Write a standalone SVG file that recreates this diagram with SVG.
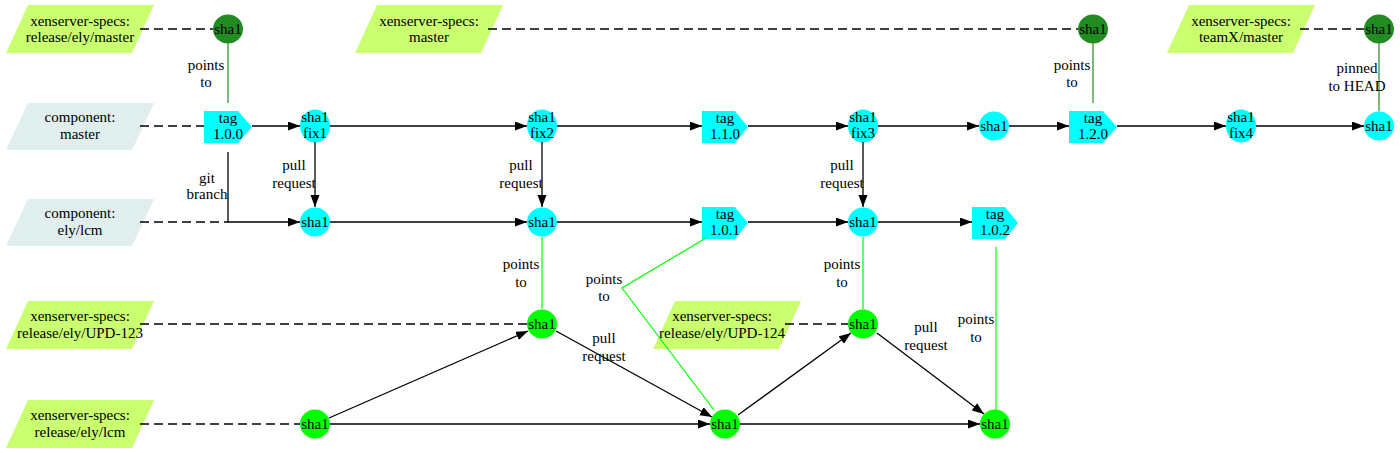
<svg xmlns="http://www.w3.org/2000/svg" width="1400" height="453" viewBox="0 0 1400 453">
<defs>
<marker id="ah" markerUnits="userSpaceOnUse" markerWidth="13" markerHeight="10" refX="12" refY="4.5" orient="auto">
<path d="M0,0 L12,4.5 L0,9 z" fill="#000"/>
</marker>
<style>
text{font-family:"Liberation Serif","Times New Roman",Times,serif;font-size:15px;fill:#000;text-anchor:middle}
.spec{fill:#caff70}
.comp{fill:#e0eeee}
.dg{fill:#228b22}
.cy{fill:#00ffff}
.gr{fill:#00ff00}
.e{stroke:#000;stroke-width:1.3;fill:none;marker-end:url(#ah)}
.d{stroke:#000;stroke-width:1.3;fill:none;stroke-dasharray:9,5}
.fg{stroke:#228b22;stroke-width:1.2;fill:none}
.lg{stroke:#00ff00;stroke-width:1.2;fill:none}
</style>
</defs>
<rect width="1400" height="453" fill="#fff"/>

<g id="spec-release-ely-master"><polygon class="spec" points="28,5 154,5 132,53 6,53"/><text x="80" y="26">xenserver-specs:</text><text x="80" y="42">release/ely/master</text></g>
<g id="spec-master"><polygon class="spec" points="377,5 503,5 481,53 355,53"/><text x="429" y="26">xenserver-specs:</text><text x="429" y="42">master</text></g>
<g id="spec-teamx"><polygon class="spec" points="1189,5 1315,5 1293,53 1167,53"/><text x="1241" y="26">xenserver-specs:</text><text x="1241" y="42">teamX/master</text></g>
<g id="comp-master"><polygon class="comp" points="28,103 154,103 132,150 6,150"/><text x="80" y="122">component:</text><text x="80" y="139">master</text></g>
<g id="comp-ely-lcm"><polygon class="comp" points="28,199 154,199 132,246 6,246"/><text x="80" y="218">component:</text><text x="80" y="235">ely/lcm</text></g>
<g id="spec-upd123"><polygon class="spec" points="28,301 154,301 132,349 6,349"/><text x="80" y="321">xenserver-specs:</text><text x="80" y="338">release/ely/UPD-123</text></g>
<g id="spec-upd124"><polygon class="spec" points="675,301 801,301 779,349 653,349"/><text x="722" y="321">xenserver-specs:</text><text x="722" y="338">release/ely/UPD-124</text></g>
<g id="spec-release-ely-lcm"><polygon class="spec" points="28,400 154,400 132,448 6,448"/><text x="80" y="420">xenserver-specs:</text><text x="80" y="437">release/ely/lcm</text></g>

<g id="pin1"><ellipse class="dg" cx="228" cy="29" rx="15" ry="14.5"/><text x="228" y="34">sha1</text></g>
<g id="pin2"><ellipse class="dg" cx="1093" cy="29" rx="15" ry="14.5"/><text x="1093" y="34">sha1</text></g>
<g id="pin3"><ellipse class="dg" cx="1379" cy="29" rx="15" ry="14.5"/><text x="1379" y="34">sha1</text></g>

<g id="tag100"><polygon class="cy" points="204,111 238,111 252,127 238,143 204,143"/><text x="228" y="123">tag</text><text x="228" y="139">1.0.0</text></g>
<g id="fix1"><ellipse class="cy" cx="315" cy="126" rx="15" ry="16.5"/><text x="315" y="122">sha1</text><text x="315" y="138">fix1</text></g>
<g id="fix2"><ellipse class="cy" cx="542" cy="126" rx="15" ry="16.5"/><text x="542" y="122">sha1</text><text x="542" y="138">fix2</text></g>
<g id="tag110"><polygon class="cy" points="702,111 735,111 748,127 735,143 702,143"/><text x="725" y="123">tag</text><text x="725" y="139">1.1.0</text></g>
<g id="fix3"><ellipse class="cy" cx="863" cy="126" rx="15" ry="16.5"/><text x="863" y="122">sha1</text><text x="863" y="138">fix3</text></g>
<g id="m-sha1"><ellipse class="cy" cx="994" cy="126" rx="15" ry="14.5"/><text x="994" y="131">sha1</text></g>
<g id="tag120"><polygon class="cy" points="1069,111 1103,111 1117,127 1103,143 1069,143"/><text x="1093" y="123">tag</text><text x="1093" y="139">1.2.0</text></g>
<g id="fix4"><ellipse class="cy" cx="1241" cy="126" rx="15" ry="16.5"/><text x="1241" y="122">sha1</text><text x="1241" y="138">fix4</text></g>
<g id="head"><ellipse class="cy" cx="1379" cy="126" rx="15" ry="14.5"/><text x="1379" y="131">sha1</text></g>

<g id="lcm1"><ellipse class="cy" cx="315" cy="222" rx="15" ry="14.5"/><text x="315" y="227">sha1</text></g>
<g id="lcm2"><ellipse class="cy" cx="542" cy="222" rx="15" ry="14.5"/><text x="542" y="227">sha1</text></g>
<g id="tag101"><polygon class="cy" points="702,207 735,207 748,223 735,239 702,239"/><text x="725" y="219">tag</text><text x="725" y="235">1.0.1</text></g>
<g id="lcm3"><ellipse class="cy" cx="863" cy="222" rx="15" ry="14.5"/><text x="863" y="227">sha1</text></g>
<g id="tag102"><polygon class="cy" points="972,207 1005,207 1018,223 1005,239 972,239"/><text x="995" y="219">tag</text><text x="995" y="235">1.0.2</text></g>

<g id="upd123"><ellipse class="gr" cx="542" cy="324" rx="15" ry="14.5"/><text x="542" y="329">sha1</text></g>
<g id="upd124"><ellipse class="gr" cx="863" cy="324" rx="15" ry="14.5"/><text x="863" y="329">sha1</text></g>
<g id="s1"><ellipse class="gr" cx="315" cy="424" rx="15" ry="14.5"/><text x="315" y="429">sha1</text></g>
<g id="s2"><ellipse class="gr" cx="725" cy="424" rx="15" ry="14.5"/><text x="725" y="429">sha1</text></g>
<g id="s3"><ellipse class="gr" cx="995" cy="424" rx="15" ry="14.5"/><text x="995" y="429">sha1</text></g>

<g id="connectors">
<line class="d" x1="140" y1="29" x2="213" y2="29"/>
<line class="d" x1="488" y1="29" x2="1078" y2="29"/>
<line class="d" x1="1300" y1="29" x2="1364" y2="29"/>
<line class="d" x1="140" y1="126" x2="204" y2="126"/>
<line class="d" x1="140" y1="222" x2="228" y2="222"/>
<line class="d" x1="140" y1="324" x2="527" y2="324"/>
<line class="d" x1="785" y1="324" x2="848" y2="324"/>
<line class="d" x1="140" y1="424" x2="300" y2="424"/>

<line class="fg" x1="228" y1="43" x2="228" y2="103"/>
<line class="fg" x1="1093" y1="43" x2="1093" y2="103"/>
<line class="fg" x1="1379" y1="43" x2="1379" y2="111"/>
<line class="lg" x1="542" y1="237" x2="542" y2="309"/>
<line class="lg" x1="863" y1="237" x2="863" y2="309"/>
<polyline class="lg" points="706,238 622,288 714,410"/>
<line class="lg" x1="996" y1="247" x2="996" y2="410"/>

<line class="e" x1="252" y1="126" x2="300" y2="126"/>
<line class="e" x1="330" y1="126" x2="527" y2="126"/>
<line class="e" x1="557" y1="126" x2="702" y2="126"/>
<line class="e" x1="748" y1="126" x2="848" y2="126"/>
<line class="e" x1="878" y1="126" x2="979" y2="126"/>
<line class="e" x1="1009" y1="126" x2="1069" y2="126"/>
<line class="e" x1="1117" y1="126" x2="1226" y2="126"/>
<line class="e" x1="1256" y1="126" x2="1364" y2="126"/>

<line class="e" x1="315" y1="142" x2="315" y2="207"/>
<line class="e" x1="542" y1="142" x2="542" y2="207"/>
<line class="e" x1="863" y1="142" x2="863" y2="207"/>

<path class="e" d="M228,152 V222 H300"/>
<line class="e" x1="330" y1="222" x2="527" y2="222"/>
<line class="e" x1="557" y1="222" x2="702" y2="222"/>
<line class="e" x1="748" y1="222" x2="848" y2="222"/>
<line class="e" x1="878" y1="222" x2="972" y2="222"/>

<line class="e" x1="329" y1="418" x2="528" y2="331"/>
<line class="e" x1="330" y1="424" x2="710" y2="424"/>
<line class="e" x1="556" y1="331" x2="712" y2="417"/>
<line class="e" x1="738" y1="415" x2="851" y2="333"/>
<line class="e" x1="740" y1="424" x2="980" y2="424"/>
<line class="e" x1="877" y1="333" x2="984" y2="414"/>

<text x="206" y="70">points</text><text x="206" y="87">to</text>
<text x="1072" y="70">points</text><text x="1072" y="87">to</text>
<text x="1357" y="73">pinned</text><text x="1357" y="91">to HEAD</text>
<text x="207" y="183">git</text><text x="207" y="199">branch</text>
<text x="294" y="170">pull</text><text x="294" y="188">request</text>
<text x="521" y="170">pull</text><text x="521" y="188">request</text>
<text x="842" y="170">pull</text><text x="842" y="188">request</text>
<text x="521" y="269">points</text><text x="521" y="287">to</text>
<text x="842" y="269">points</text><text x="842" y="287">to</text>
<text x="604" y="284">points</text><text x="604" y="301">to</text>
<text x="604" y="343">pull</text><text x="604" y="361">request</text>
<text x="926" y="332">pull</text><text x="926" y="350">request</text>
<text x="976" y="324">points</text><text x="976" y="342">to</text>
</g>
</svg>
